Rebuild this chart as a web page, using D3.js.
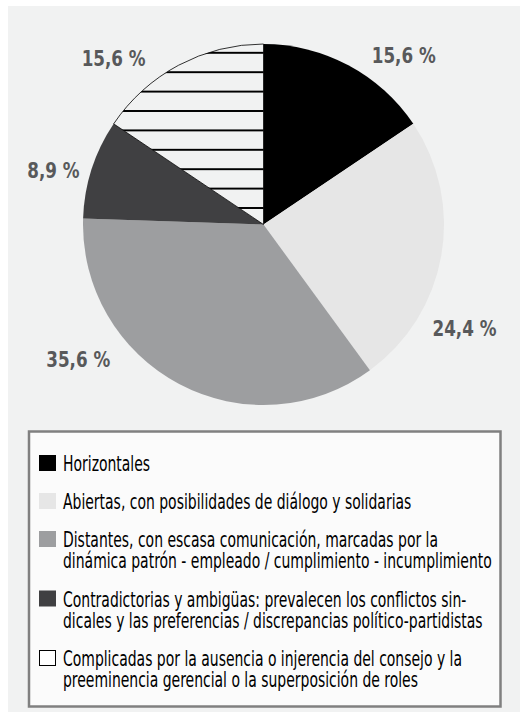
<!DOCTYPE html>
<meta charset="utf-8">
<style>
  body { margin: 0; background: #fff; }
  text { font-family: "Liberation Sans Narrow", "DejaVu Sans Condensed", "Roboto", sans-serif; }
</style>
<svg width="520" height="716"></svg>
<script src="https://d3js.org/d3.v7.min.js"></script>
<script>

  // data, clockwise from 12 o'clock
  var categories = [
    ["Horizontales"],
    ["Abiertas, con posibilidades de diálogo y solidarias"],
    ["Distantes, con escasa comunicación, marcadas por la", "dinámica patrón - empleado / cumplimiento - incumplimiento"],
    ["Contradictorias y ambigüas: prevalecen los conflictos sin-", "dicales y las preferencias / discrepancias político-partidistas"],
    ["Complicadas por la ausencia o injerencia del consejo y la", "preeminencia gerencial o la superposición de roles"]
  ];
  var values = [15.6, 24.4, 35.6, 8.9, 15.6];
  var labels = ["15,6 %", "24,4 %", "35,6 %", "8,9 %", "15,6 %"];

  var colors = ["#000000", "#e6e6e6", "#9d9ea0", "#404042", "url(#hatch)"];
  // where each percentage sits around the pie (degrees from top, radius)
  var labelAngle = [39.6, 117.2, 234, 284.5, 318];
  var labelRadius = [220, 226, 229, 217, 224];

  var svg = d3.select("svg");

  svg.append("rect")
    .attr("x", 8).attr("y", 6)
    .attr("width", 512).attr("height", 706)
    .attr("fill", "#f1f2f2");

  var cx = 263.5, cy = 224.5, r = 180.5;

  var defs = svg.append("defs");
  var pat = defs.append("pattern")
    .attr("id", "hatch")
    .attr("patternUnits", "userSpaceOnUse")
    .attr("x", 0).attr("y", -26.2)
    .attr("width", 40).attr("height", 19.4);
  pat.append("rect").attr("width", 40).attr("height", 19.4).attr("fill", "#f1f2f2");
  pat.append("line")
    .attr("x1", 0).attr("x2", 40).attr("y1", 9.7).attr("y2", 9.7)
    .attr("stroke", "#000").attr("stroke-width", 1.7);

  var g = svg.append("g").attr("transform", "translate(" + cx + "," + cy + ")");

  var pie = d3.pie().sort(null).value(function (d) { return d; });
  var arc = d3.arc().innerRadius(0).outerRadius(r);

  g.selectAll("path")
    .data(pie(values))
    .join("path")
    .attr("d", arc)
    .attr("fill", function (d, i) { return colors[i]; })
    .attr("stroke", function (d, i) { return i === 4 ? "#000" : "none"; })
    .attr("stroke-width", 0.8);

  // percentage labels, squeezed to the condensed look of the original
  var lab = g.selectAll("text.pct")
    .data(labels)
    .join("text")
    .attr("class", "pct")
    .attr("font-size", 22)
    .attr("font-weight", "bold")
    .attr("fill", "#58595b")
    .text(function (d) { return d; });

  var w0 = lab.nodes()[0].getComputedTextLength();
  var kLab = Math.min(1, 64 / w0);
  lab.attr("text-anchor", "middle")
    .attr("transform", function (d, i) {
      var p = d3.pointRadial(labelAngle[i] * Math.PI / 180, labelRadius[i]);
      return "translate(" + p[0] + "," + (p[1] + 8) + ") scale(" + kLab + ",1)";
    });

  // legend
  var lg = svg.append("g");
  lg.append("rect")
    .attr("x", 29).attr("y", 431.5)
    .attr("width", 471.5).attr("height", 275)
    .attr("fill", "#fbfbfb")
    .attr("stroke", "#808080")
    .attr("stroke-width", 2.5);

  var lineH = 21.5, gap = 38, y = 471;
  var items = categories.map(function (lines, i) {
    var it = { lines: lines, y: y, i: i };
    y += (lines.length - 1) * lineH + gap;
    return it;
  });

  var rows = lg.selectAll("g.item")
    .data(items)
    .join("g")
    .attr("class", "item");

  rows.append("rect")
    .attr("x", function (d) { return d.i === 4 ? 39.5 : 39; })
    .attr("y", function (d) { return d.y - (d.i === 4 ? 15.5 : 16); })
    .attr("width", function (d) { return d.i === 4 ? 16 : 17; })
    .attr("height", function (d) { return d.i === 4 ? 15 : 16; })
    .attr("fill", function (d) { return d.i === 4 ? "#fff" : colors[d.i]; })
    .attr("stroke", function (d) { return d.i === 4 ? "#000" : "none"; })
    .attr("stroke-width", 1);

  var txt = rows.append("text")
    .attr("font-size", 21)
    .attr("fill", "#000");

  var spans = txt.selectAll("tspan")
    .data(function (d) { return d.lines.map(function (l, j) { return { t: l, j: j }; }); })
    .join("tspan")
    .attr("x", 0)
    .attr("dy", function (d) { return d.j === 0 ? 0 : lineH; })
    .text(function (d) { return d.t; });

  // squeeze so the longest line spans like the original
  var longest = d3.max(spans.nodes(), function (n) { return n.getComputedTextLength(); });
  var kLeg = Math.min(1, 429 / longest);
  txt.attr("transform", function (d) { return "translate(63," + d.y + ") scale(" + kLeg + ",1)"; });

</script>
